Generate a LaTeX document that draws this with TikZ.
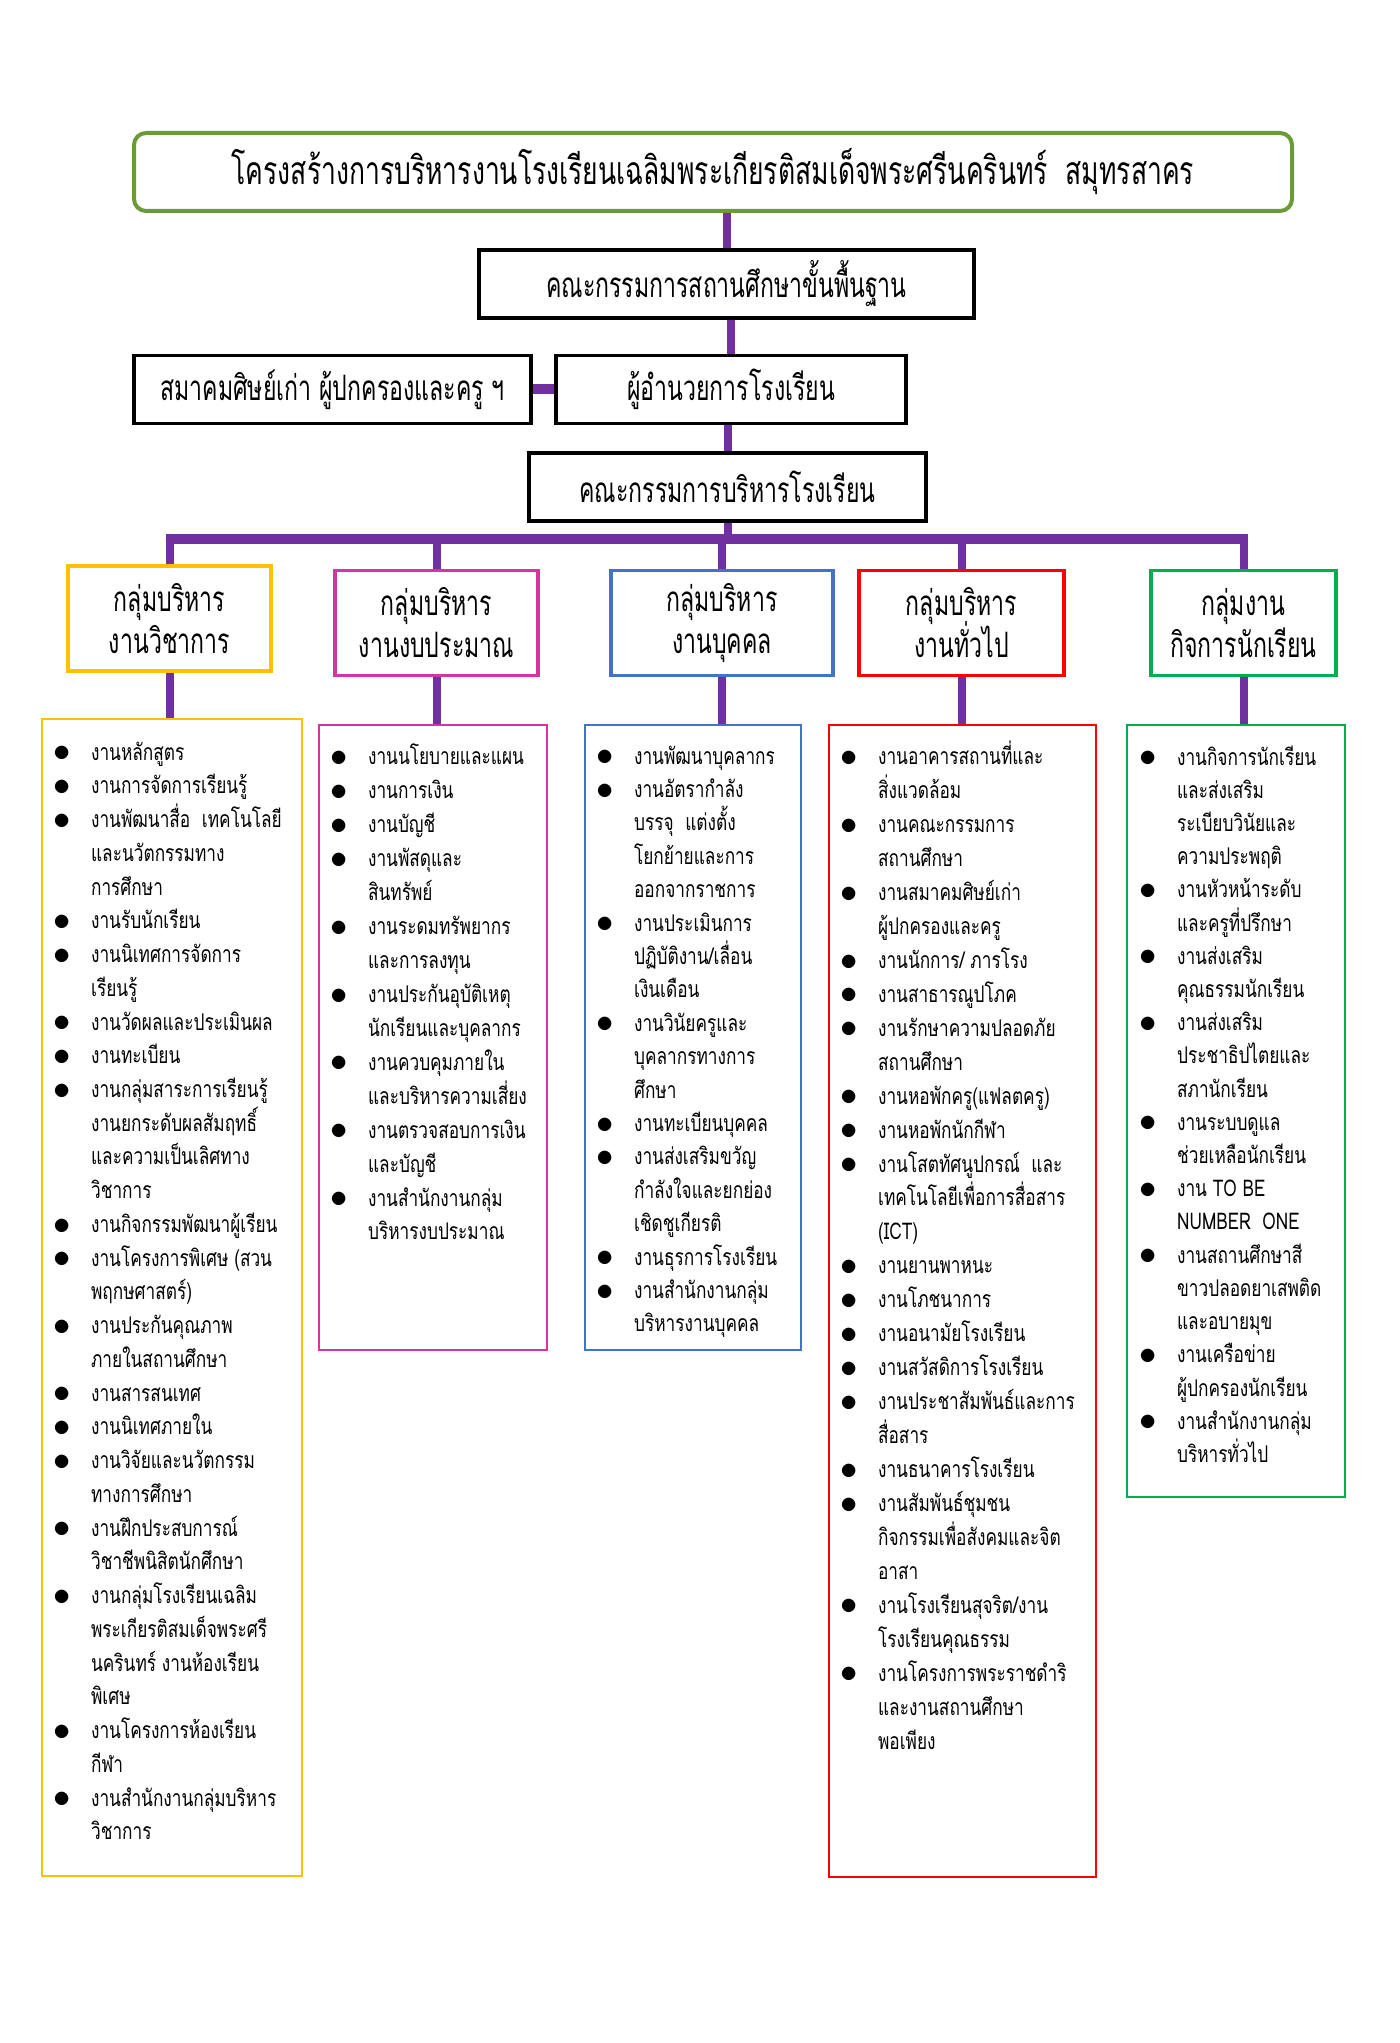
\documentclass[tikz,border=0pt]{standalone}
\usepackage{fontspec}
\usepackage{tikz}
\newfontfamily\thaititle[Script=Thai,FakeStretch=0.68]{Loma}
\newfontfamily\thaibox[Script=Thai,FakeStretch=0.66]{Loma}
\newfontfamily\thailist[Script=Thai,FakeStretch=0.75]{Loma}
\definecolor{linkpurple}{HTML}{7030A0}
\definecolor{titlegreen}{HTML}{6B9B37}
\definecolor{acadyellow}{HTML}{FFC000}
\definecolor{budgetpink}{HTML}{D4359F}
\definecolor{staffblue}{HTML}{4472C4}
\definecolor{generalred}{HTML}{FF0000}
\definecolor{studentgreen}{HTML}{00B050}
\newcommand{\bul}{\makebox[19pt][l]{\raisebox{-0.8pt}{\fontsize{16}{17}\selectfont$\bullet$}}}
\newcommand{\ind}{\hspace*{19pt}}
\lineskiplimit=-20pt

\begin{document}
\begin{tikzpicture}[x=0.5pt, y=-0.5pt,
  titlebox/.style={draw=titlegreen, line width=2pt, rounded corners=6pt, minimum width=579pt, minimum height=39pt, font=\thaititle\fontsize{19.5}{22}\selectfont},
  topbox/.style={draw, line width=1.6pt, minimum height=34pt, font=\thaibox\fontsize{17.5}{20}\selectfont},
  headbox/.style={draw, line width=1.6pt, minimum height=52.5pt, align=center, font=\thaibox\fontsize{17.5}{21}\selectfont},
  listbox/.style={draw, line width=1.3pt, inner sep=0pt},
  listtext/.style={anchor=north west, inner sep=0pt, align=left, font=\thailist\fontsize{11.5}{#1}\selectfont},
  link/.style={draw=linkpurple, line width=4pt}]

\useasboundingbox (0,0) rectangle (1400,2043);

% top of the chart
\node[titlebox] (title) at (713,172) {โครงสร้างการบริหารงานโรงเรียนเฉลิมพระเกียรติสมเด็จพระศรีนครินทร์\ \ สมุทรสาคร};
\node[topbox, minimum width=247.5pt] (board) at (726.5,284) {คณะกรรมการสถานศึกษาขั้นพื้นฐาน};
\node[topbox, minimum width=175pt]   (director) at (731,389.5) {ผู้อำนวยการโรงเรียน};
\node[topbox, minimum width=198.5pt] (assoc) at (332.5,389.5) {สมาคมศิษย์เก่า ผู้ปกครองและครู ฯ};
\node[topbox, minimum width=198.5pt] (exec) at (727.5,487) {คณะกรรมการบริหารโรงเรียน};

% group heads
\node[headbox, draw=acadyellow,   minimum width=101.5pt] (acad)    at (169.5,618.5) {กลุ่มบริหาร\\งานวิชาการ};
\node[headbox, draw=budgetpink,   minimum width=101.5pt] (budget)  at (436.5,623) {กลุ่มบริหาร\\งานงบประมาณ};
\node[headbox, draw=staffblue,    minimum width=111pt]   (staff)   at (722,623) {กลุ่มบริหาร\\งานบุคคล};
\node[headbox, draw=generalred,   minimum width=102.5pt] (general) at (961.5,623) {กลุ่มบริหาร\\งานทั่วไป};
\node[headbox, draw=studentgreen, minimum width=92.5pt]  (student) at (1243.5,623) {กลุ่มงาน\\กิจการนักเรียน};

% list frames
\node[listbox, draw=acadyellow,   minimum width=130pt,   minimum height=578.5pt] (acadlist)    at (172,1297.5) {};
\node[listbox, draw=budgetpink,   minimum width=114pt,   minimum height=312.5pt] (budgetlist)  at (433,1037.5) {};
\node[listbox, draw=staffblue,    minimum width=108pt,   minimum height=312.5pt] (stafflist)   at (693,1037.5) {};
\node[listbox, draw=generalred,   minimum width=133.5pt, minimum height=576pt]   (generallist) at (962.5,1301) {};
\node[listbox, draw=studentgreen, minimum width=109pt,   minimum height=386pt]   (studentlist) at (1236,1111) {};

% connectors
\coordinate (barT) at (0,534);
\coordinate (barM) at (0,539);
\draw[link] (title.south -| board.north) -- (board.north);
\draw[link] (board.south -| director.north) -- (director.north);
\draw[link] (director.south -| exec.north) -- (exec.north);
\draw[link, line width=5pt] (assoc.east) -- (director.west);
\draw[link] (exec.south) -- (exec.south |- barM);
\draw[link, line width=5pt] (acad.north |- barM) -- (student.north |- barM);
\foreach \g in {acad,budget,staff,general,student}{
  \draw[link] (\g.north) -- (\g.north |- barT);
  \draw[link] (\g.south) -- (\g.south |- \g list.north);
}

% list texts
\node[listtext=16.87pt] (acadtext) at ([xshift=6pt,yshift=-11.8pt]acadlist.north west) {%
\bul งานหลักสูตร\\
\bul งานการจัดการเรียนรู้\\
\bul งานพัฒนาสื่อ\ \ เทคโนโลยี\\
\ind และนวัตกรรมทาง\\
\ind การศึกษา\\
\bul งานรับนักเรียน\\
\bul งานนิเทศการจัดการ\\
\ind เรียนรู้\\
\bul งานวัดผลและประเมินผล\\
\bul งานทะเบียน\\
\bul งานกลุ่มสาระการเรียนรู้\\
\ind งานยกระดับผลสัมฤทธิ์\\
\ind และความเป็นเลิศทาง\\
\ind วิชาการ\\
\bul งานกิจกรรมพัฒนาผู้เรียน\\
\bul งานโครงการพิเศษ (สวน\\
\ind พฤกษศาสตร์)\\
\bul งานประกันคุณภาพ\\
\ind ภายในสถานศึกษา\\
\bul งานสารสนเทศ\\
\bul งานนิเทศภายใน\\
\bul งานวิจัยและนวัตกรรม\\
\ind ทางการศึกษา\\
\bul งานฝึกประสบการณ์\\
\ind วิชาชีพนิสิตนักศึกษา\\
\bul งานกลุ่มโรงเรียนเฉลิม\\
\ind พระเกียรติสมเด็จพระศรี\\
\ind นครินทร์ งานห้องเรียน\\
\ind พิเศษ\\
\bul งานโครงการห้องเรียน\\
\ind กีฬา\\
\bul งานสำนักงานกลุ่มบริหาร\\
\ind วิชาการ};

\node[listtext=16.97pt] (budgettext) at ([xshift=6pt,yshift=-10pt]budgetlist.north west) {%
\bul งานนโยบายและแผน\\
\bul งานการเงิน\\
\bul งานบัญชี\\
\bul งานพัสดุและ\\
\ind สินทรัพย์\\
\bul งานระดมทรัพยากร\\
\ind และการลงทุน\\
\bul งานประกันอุบัติเหตุ\\
\ind นักเรียนและบุคลากร\\
\bul งานควบคุมภายใน\\
\ind และบริหารความเสี่ยง\\
\bul งานตรวจสอบการเงิน\\
\ind และบัญชี\\
\bul งานสำนักงานกลุ่ม\\
\ind บริหารงบประมาณ};

\node[listtext=16.7pt] (stafftext) at ([xshift=6pt,yshift=-10.8pt]stafflist.north west) {%
\bul งานพัฒนาบุคลากร\\
\bul งานอัตรากำลัง\\
\ind บรรจุ\ \ แต่งตั้ง\\
\ind โยกย้ายและการ\\
\ind ออกจากราชการ\\
\bul งานประเมินการ\\
\ind ปฏิบัติงาน/เลื่อน\\
\ind เงินเดือน\\
\bul งานวินัยครูและ\\
\ind บุคลากรทางการ\\
\ind ศึกษา\\
\bul งานทะเบียนบุคคล\\
\bul งานส่งเสริมขวัญ\\
\ind กำลังใจและยกย่อง\\
\ind เชิดชูเกียรติ\\
\bul งานธุรการโรงเรียน\\
\bul งานสำนักงานกลุ่ม\\
\ind บริหารงานบุคคล};

\node[listtext=16.97pt] (generaltext) at ([xshift=6pt,yshift=-8.5pt]generallist.north west) {%
\bul งานอาคารสถานที่และ\\
\ind สิ่งแวดล้อม\\
\bul งานคณะกรรมการ\\
\ind สถานศึกษา\\
\bul งานสมาคมศิษย์เก่า\\
\ind ผู้ปกครองและครู\\
\bul งานนักการ/ ภารโรง\\
\bul งานสาธารณูปโภค\\
\bul งานรักษาความปลอดภัย\\
\ind สถานศึกษา\\
\bul งานหอพักครู(แฟลตครู)\\
\bul งานหอพักนักกีฬา\\
\bul งานโสตทัศนูปกรณ์\ \ และ\\
\ind เทคโนโลยีเพื่อการสื่อสาร\\
\ind (ICT)\\
\bul งานยานพาหนะ\\
\bul งานโภชนาการ\\
\bul งานอนามัยโรงเรียน\\
\bul งานสวัสดิการโรงเรียน\\
\bul งานประชาสัมพันธ์และการ\\
\ind สื่อสาร\\
\bul งานธนาคารโรงเรียน\\
\bul งานสัมพันธ์ชุมชน\\
\ind กิจกรรมเพื่อสังคมและจิต\\
\ind อาสา\\
\bul งานโรงเรียนสุจริต/งาน\\
\ind โรงเรียนคุณธรรม\\
\bul งานโครงการพระราชดำริ\\
\ind และงานสถานศึกษา\\
\ind พอเพียง};

\node[listtext=16.6pt] (studenttext) at ([xshift=6.5pt,yshift=-10.8pt]studentlist.north west) {%
\bul งานกิจการนักเรียน\\
\ind และส่งเสริม\\
\ind ระเบียบวินัยและ\\
\ind ความประพฤติ\\
\bul งานหัวหน้าระดับ\\
\ind และครูที่ปรึกษา\\
\bul งานส่งเสริม\\
\ind คุณธรรมนักเรียน\\
\bul งานส่งเสริม\\
\ind ประชาธิปไตยและ\\
\ind สภานักเรียน\\
\bul งานระบบดูแล\\
\ind ช่วยเหลือนักเรียน\\
\bul งาน TO BE\\
\ind NUMBER\ \ ONE\\
\bul งานสถานศึกษาสี\\
\ind ขาวปลอดยาเสพติด\\
\ind และอบายมุข\\
\bul งานเครือข่าย\\
\ind ผู้ปกครองนักเรียน\\
\bul งานสำนักงานกลุ่ม\\
\ind บริหารทั่วไป};
\end{tikzpicture}
\end{document}
